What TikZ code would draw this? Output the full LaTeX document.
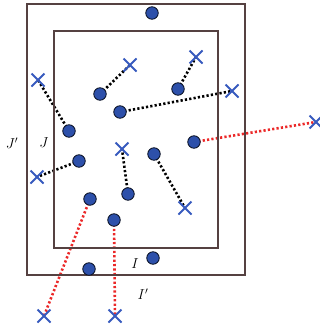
\documentclass[tikz,border=0pt]{standalone}
\usetikzlibrary{shapes.misc,backgrounds}
\definecolor{ptblue}{RGB}{45,80,170}
\definecolor{xblue}{RGB}{55,90,190}
\definecolor{frame}{RGB}{85,65,65}
\definecolor{rdot}{RGB}{235,40,40}
\tikzset{
  pt/.style={circle,fill=ptblue,draw=black!80!ptblue,line width=0.8pt,minimum size=12.5pt,inner sep=0pt},
  xx/.style={cross out,draw=xblue,line width=2pt,minimum size=11pt,inner sep=0pt},
  blk/.style={line width=2.6pt,black,dash pattern=on 2.2pt off 2.2pt},
  red/.style={line width=2.6pt,rdot,dash pattern=on 2.2pt off 2.2pt},
  box/.style={draw=frame,line width=1.8pt},
  lab/.style={font=\fontsize{14}{16}\selectfont}
}
\begin{document}
\begin{tikzpicture}[x=1pt,y=-1pt]
\useasboundingbox (0,0) rectangle (320,332);
\draw[box] (27,4) rectangle (245,275);
\draw[box] (54,31) rectangle (218,248);
% dots
\node[pt] (p0) at (152,13) {};
\node[pt] (p1) at (100,94) {};
\node[pt] (p2) at (178,89) {};
\node[pt] (p3) at (120,112) {};
\node[pt] (p4) at (69,131) {};
\node[pt] (p5) at (194,142) {};
\node[pt] (p6) at (79,161) {};
\node[pt] (p7) at (154,154) {};
\node[pt] (p8) at (128,194) {};
\node[pt] (p9) at (90,199) {};
\node[pt] (p10) at (114,220) {};
\node[pt] (p11) at (153,258) {};
\node[pt] (p12) at (89,269) {};
% crosses
\node[xx] (x1) at (130,65) {};
\node[xx] (x2) at (196,57) {};
\node[xx] (x3) at (38,80) {};
\node[xx] (x4) at (232,91) {};
\node[xx] (x5) at (316,122) {};
\node[xx] (x6) at (122,149) {};
\node[xx] (x7) at (37,177) {};
\node[xx] (x8) at (185,208) {};
\node[xx] (x9) at (44,316) {};
\node[xx] (x10) at (115,316) {};
\begin{scope}[on background layer]
\draw[blk] (p1.center) -- (x1.center);
\draw[blk] (p2.center) -- (x2.center);
\draw[blk] (p4.center) -- (x3.center);
\draw[blk] (p3.center) -- (x4.center);
\draw[blk] (p6.center) -- (x7.center);
\draw[blk] (p8.center) -- (x6.center);
\draw[blk] (p7.center) -- (x8.center);
\draw[red] (p5.center) -- (x5.center);
\draw[red] (p9.center) -- (x9.center);
\draw[red] (p10.center) -- (x10.center);
\end{scope}
\node[lab] (lJp) at (12,143) {$J'$};
\node[lab] (lJ) at (44,143) {$J$};
\node[lab] (lI) at (135,264) {$I$};
\node[lab] (lIp) at (143,294) {$I'$};
\end{tikzpicture}
\end{document}
